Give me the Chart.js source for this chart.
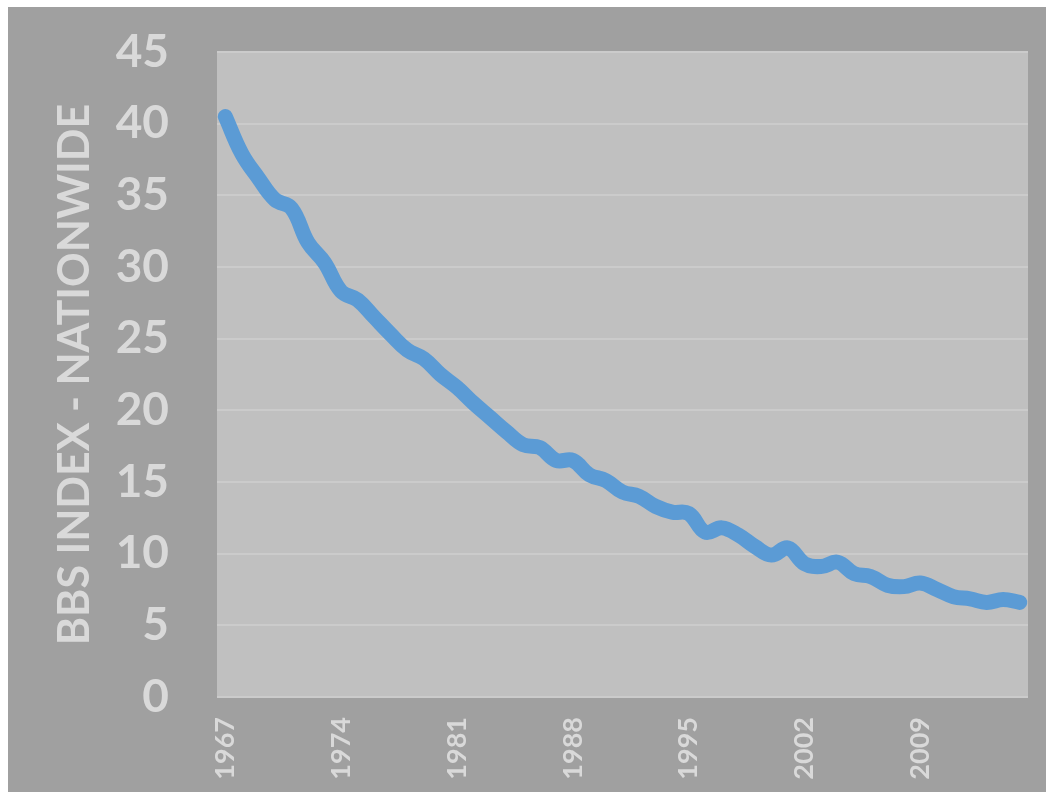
<!DOCTYPE html>
<html>
<head>
<meta charset="utf-8">
<script src="https://cdn.jsdelivr.net/npm/chart.js@4.4.1/dist/chart.umd.min.js"></script>
<style>
  html, body { margin: 0; padding: 0; background: #ffffff; }
  #wrap { position: absolute; left: 8px; top: 7px; width: 1038px; height: 785px; background: #a0a0a0; }
</style>
</head>
<body>
<div id="wrap"><canvas id="bbsChart"></canvas></div>
<script>
// Años y valores del índice BBS
const years = [];
for (let y = 1967; y <= 2015; y++) years.push(String(y));
const bbsValues = [
  40.5, 37.9, 36.2, 34.7, 34.1, 31.7, 30.3, 28.3, 27.7, 26.5,
  25.3, 24.2, 23.6, 22.5, 21.6, 20.5, 19.5, 18.5, 17.6, 17.4,
  16.5, 16.5, 15.5, 15.1, 14.3, 14.0, 13.3, 12.9, 12.8, 11.5,
  11.8, 11.3, 10.5, 9.9, 10.4, 9.3, 9.1, 9.4, 8.6, 8.4,
  7.8, 7.7, 7.95, 7.5, 7.0, 6.85, 6.6, 6.8, 6.6
];
const yTicks = [0, 5, 10, 15, 20, 25, 30, 35, 40, 45];

const textColor = '#d9d9d9';

// Fondo del área de trazado
const plotBg = {
  id: 'plotBg',
  beforeDraw(chart) {
    const { ctx, chartArea: a } = chart;
    ctx.save();
    ctx.fillStyle = '#c0c0c0';
    ctx.fillRect(a.left, a.top, a.right - a.left, a.bottom - a.top);
    ctx.restore();
  }
};

const ctx = document.getElementById('bbsChart').getContext('2d');
const bbsChart = new Chart(ctx, {
  type: 'line',
  data: {
    labels: years,
    datasets: [{
      label: 'BBS Index',
      data: bbsValues,
      borderColor: '#5b9bd5',
      borderWidth: 15,
      borderCapStyle: 'round',
      borderJoinStyle: 'round',
      pointRadius: 0,
      tension: 0.4,
      fill: false
    }]
  },
  options: {
    responsive: true,
    maintainAspectRatio: false,
    animation: false,
    layout: { padding: { left: 0, right: 18, top: 45, bottom: 0 } },
    plugins: { legend: { display: false }, tooltip: { enabled: false } },
    scales: {
      x: {
        offset: true,
        grid: { display: false },
        border: { display: false },
        afterFit: (scale) => { scale.height = 95; scale.paddingLeft = 0; scale.paddingRight = 0; },
        ticks: {
          autoSkip: false,
          maxRotation: 90,
          minRotation: 90,
          padding: 12,
          color: textColor,
          font: { family: 'Lato', weight: 'bold', size: 27 },
          callback: function (val, i) { return i % 7 === 0 ? years[i] : null; }
        }
      },
      y: {
        min: 0,
        max: 45,
        afterFit: (scale) => { scale.width = 209; scale.paddingTop = 0; scale.paddingBottom = 0; },
        afterBuildTicks: (scale) => { scale.ticks = yTicks.map(v => ({ value: v })); },
        grid: { color: '#cbcbcb', lineWidth: 2, drawTicks: false },
        border: { display: false },
        ticks: {
          padding: 48,
          color: textColor,
          font: { family: 'Lato', weight: 'bold', size: 46 }
        },
        title: {
          display: true,
          text: 'BBS INDEX - NATIONWIDE',
          color: textColor,
          padding: { top: 41, bottom: 0 },
          font: { family: 'Lato', weight: 'bold', size: 43 }
        }
      }
    }
  },
  plugins: [plotBg]
});
</script>
</body>
</html>
